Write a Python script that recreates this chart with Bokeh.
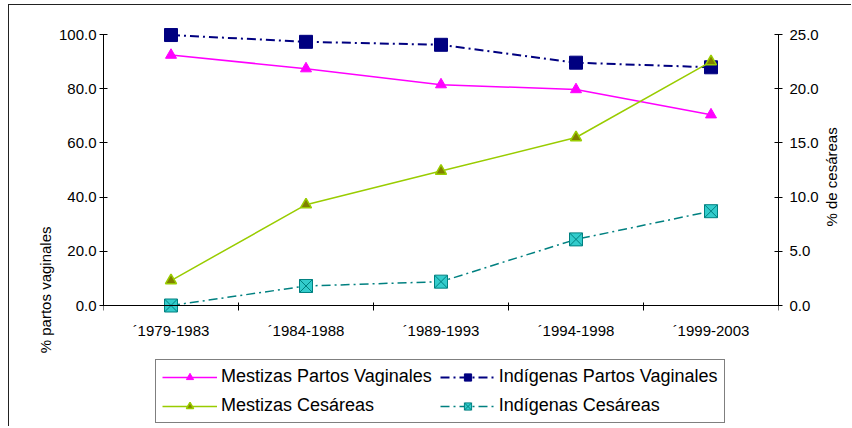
import math
from bokeh.plotting import figure
from bokeh.models import Range1d, LinearAxis, FixedTicker, Legend, LegendItem
from bokeh.embed import file_html
from bokeh.resources import INLINE

periods = ["´1979-1983", "´1984-1988", "´1989-1993", "´1994-1998", "´1999-2003"]
mestizas_vaginales = [92.4, 87.4, 81.5, 79.7, 70.4]
indigenas_vaginales = [99.8, 97.3, 96.2, 89.6, 87.9]
mestizas_cesareas = [2.3, 9.3, 12.4, 15.5, 22.5]
indigenas_cesareas = [0.0, 1.8, 2.2, 6.1, 8.7]
left_ticks = [0, 20, 40, 60, 80, 100]
right_ticks = [0, 5, 10, 15, 20, 25]

xs = [i + 0.5 for i in range(len(periods))]
FONT = "Liberation Sans"

# layout (pixels, page coordinates)
FIG_TOP = 5                 # 4px margin + 1px border
W, H = 843, 422
BL, BR, BT = 94, 74, 20
Y_TOP, Y_ZERO = 34, 305     # page y of the axis maximum and of zero
LEFT_MAX, RIGHT_MAX = 100, 25
frame_top = FIG_TOP + BT
frame_bottom = FIG_TOP + H
span = Y_ZERO - Y_TOP
left_lo = -LEFT_MAX * (frame_bottom - Y_ZERO) / span
left_hi = LEFT_MAX + LEFT_MAX * (Y_TOP - frame_top) / span
right_lo = -RIGHT_MAX * (frame_bottom - Y_ZERO) / span
right_hi = RIGHT_MAX + RIGHT_MAX * (Y_TOP - frame_top) / span

p = figure(width=W, height=H, output_backend="svg", toolbar_location=None,
           x_range=Range1d(0, len(periods)), y_range=Range1d(left_lo, left_hi),
           min_border_left=BL, min_border_right=BR, min_border_top=BT, min_border_bottom=0)
p.extra_y_ranges = {"ces": Range1d(right_lo, right_hi)}
p.xgrid.visible = False
p.ygrid.visible = False
p.outline_line_color = None
p.background_fill_color = "white"
p.border_fill_color = "white"
p.styles = {"border-left": "1px solid #222", "border-top": "1px solid #222",
            "margin-left": "8px", "margin-top": "4px"}

def style_axis(ax):
    ax.axis_line_color = "black"
    ax.axis_line_width = 1
    ax.major_tick_line_color = "black"
    ax.minor_tick_line_color = None
    ax.major_tick_in = 4
    ax.major_tick_out = 4
    ax.major_label_text_font = FONT
    ax.major_label_text_font_size = "15px"
    ax.major_label_text_color = "black"
    ax.axis_label_text_font = FONT
    ax.axis_label_text_font_size = "15px"
    ax.axis_label_text_font_style = "normal"
    ax.axis_label_text_color = "black"

# x axis, drawn at y = 0
xa = p.xaxis[0]
style_axis(xa)
xa.fixed_location = 0
xa.ticker = FixedTicker(ticks=xs, minor_ticks=list(range(len(periods) + 1)))
xa.major_label_overrides = {x: lab for x, lab in zip(xs, periods)}
xa.major_tick_line_color = None
xa.major_tick_out = 5
xa.minor_tick_line_color = "black"
xa.minor_tick_in = 3
xa.minor_tick_out = 5
xa.major_label_standoff = 11

# left axis
ya = p.yaxis[0]
style_axis(ya)
ya.bounds = (0, LEFT_MAX)
ya.ticker = FixedTicker(ticks=left_ticks)
ya.major_label_overrides = {t: f"{t:.1f}" for t in left_ticks}
ya.axis_label = "% partos vaginales"
ya.axis_label_orientation = math.pi / 2
ya.axis_label_text_align = "right"
ya.major_label_standoff = 3
ya.axis_label_standoff = 10

# right axis
ra = LinearAxis(y_range_name="ces", axis_label="% de cesáreas")
style_axis(ra)
ra.bounds = (0, RIGHT_MAX)
ra.ticker = FixedTicker(ticks=right_ticks)
ra.major_label_overrides = {t: f"{t:.1f}" for t in right_ticks}
ra.major_label_standoff = 7
ra.axis_label_standoff = 10
ra.axis_label_orientation = math.pi / 2
ra.axis_label_text_align = "left"
p.add_layout(ra, "right")

DASHDOT = "9 4 2 4"

l1 = p.line(xs, mestizas_vaginales, line_color="#FF00FF", line_width=1.5)
m1 = p.scatter(xs, mestizas_vaginales, marker="triangle", size=11,
               fill_color="#FF00FF", line_color="#FF00FF")

l2 = p.line(xs, indigenas_vaginales, line_color="#000080", line_width=2, line_dash=DASHDOT)
m2 = p.scatter(xs, indigenas_vaginales, marker="square", size=13,
               fill_color="#000080", line_color="#000080")

l3 = p.line(xs, mestizas_cesareas, line_color="#99CC00", line_width=1.5, y_range_name="ces")
m3 = p.scatter(xs, mestizas_cesareas, marker="triangle", size=11, y_range_name="ces",
               fill_color="#808000", line_color="#99CC00", line_width=1.5)

l4 = p.line(xs, indigenas_cesareas, line_color="#008080", line_width=1.5, line_dash=DASHDOT,
            y_range_name="ces")
m4 = p.scatter(xs, indigenas_cesareas, marker="square_x", size=13, y_range_name="ces",
               fill_color="#33CCCC", line_color="#008080", line_width=1)

legend = Legend(items=[
    LegendItem(label="Mestizas Partos Vaginales", renderers=[l1, m1]),
    LegendItem(label="Indígenas Partos Vaginales", renderers=[l2, m2]),
    LegendItem(label="Mestizas Cesáreas", renderers=[l3, m3]),
    LegendItem(label="Indígenas Cesáreas", renderers=[l4, m4]),
], location=(52, 4), orientation="horizontal", ncols=2)
legend.label_text_font = FONT
legend.label_text_font_size = "18px"
legend.label_text_color = "black"
legend.glyph_width = 55
legend.glyph_height = 18
legend.label_height = 18
legend.label_standoff = 4
legend.spacing = 8
legend.padding = 6
legend.margin = 0
legend.border_line_color = "black"
legend.border_line_width = 1
legend.background_fill_alpha = 1
p.add_layout(legend, "center")

open("out.html", "w").write(file_html(p, INLINE))
